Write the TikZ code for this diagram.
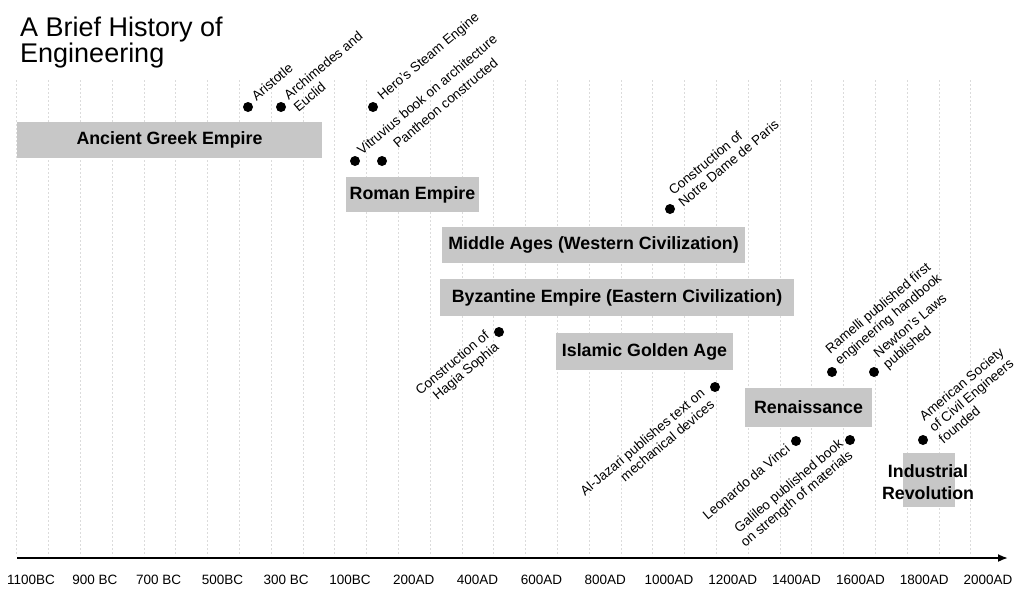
\documentclass[tikz,border=0pt]{standalone}
\usepackage{fontspec}
\setmainfont{Liberation Sans}
\usetikzlibrary{calc,arrows.meta}

\begin{document}
\begin{tikzpicture}[x=1pt, y=1pt,
  bar/.style={fill=black!22, inner sep=0pt, font=\fontsize{17.8}{21.5}\selectfont\bfseries},
  event/.style={circle, fill=black, inner sep=0pt, minimum size=10pt},
  upnote/.style={rotate=40, anchor=north west, inner sep=0pt, align=left, font=\fontsize{13.5}{15}\selectfont},
  downnote/.style={rotate=40, anchor=north east, inner sep=0pt, align=right, font=\fontsize{13.5}{15}\selectfont},
  era/.style={font=\fontsize{13.5}{16}\selectfont}]
\useasboundingbox (0,0) rectangle (1014,-590);

%==========
\foreach \i in {0,...,30}
  \draw[gray!28, dash pattern=on 2pt off 2pt, line width=0.5pt] ({16.7+31.8*\i},-80) -- ({16.7+31.8*\i},-556);

\node[anchor=north west, inner sep=0pt, align=left, font=\fontsize{27}{26.5}\selectfont] (title) at (20,-16.5) {A Brief History of\\Engineering};

%==========
\node[bar, minimum width=305pt, minimum height=36pt] (greek) at (169.5,-140) {Ancient Greek Empire};
\node[bar, minimum width=133pt, minimum height=35pt] (roman) at (412.5,-194.5) {Roman Empire};
\node[bar, minimum width=303pt, minimum height=36pt] (middle) at (593.5,-245) {Middle Ages (Western Civilization)};
\node[bar, minimum width=354pt, minimum height=37pt] (byzantine) at (617,-297.5) {Byzantine Empire (Eastern Civilization)};
\node[bar, minimum width=177pt, minimum height=37pt] (islamic) at (644.5,-351.5) {Islamic Golden Age};
\node[bar, minimum width=127pt, minimum height=39pt] (renaissance) at (808.5,-407.5) {Renaissance};
\node[bar, minimum width=52pt, minimum height=54pt] (industrialbox) at (929,-480) {};
\node[bar, fill=none, align=center] (industrial) at (928,-482) {Industrial\\Revolution};

%==========
\node[event] (aristotle) at (248,-107) {};
\node[event] (archimedes) at (281,-107) {};
\node[event] (hero) at (373,-107) {};
\node[event] (vitruvius) at (355,-161) {};
\node[event] (pantheon) at (382,-161) {};
\node[event] (notredame) at (670,-209) {};
\node[event] (hagia) at (499,-332) {};
\node[event] (aljazari) at (715,-387) {};
\node[event] (ramelli) at (832,-372) {};
\node[event] (newton) at (874,-372) {};
\node[event] (leonardo) at (796,-441) {};
\node[event] (galileo) at (850,-440) {};
\node[event] (asce) at (923,-440) {};

\node[upnote] (aristotle-t) at ($(aristotle)+(40:10)+(130:8.85)$) {Aristotle};
\node[upnote] (archimedes-t) at ($(archimedes)+(40:10)+(130:9.85)$) {Archimedes and\\Euclid};
\node[upnote] (hero-t) at ($(hero)+(40:11)+(130:8.85)$) {Hero's Steam Engine};
\node[upnote] (vitruvius-t) at ($(vitruvius)+(40:9)+(130:9.85)$) {Vitruvius book on architecture};
\node[upnote] (pantheon-t) at ($(pantheon)+(40:20)+(130:8.85)$) {Pantheon constructed};
\node[upnote] (notredame-t) at ($(notredame)+(40:11)+(130:17.6)$) {Construction of\\Notre Dame de Paris};
\node[upnote] (ramelli-t) at ($(ramelli)+(40:10)+(130:24.85)$) {Ramelli published first\\engineering handbook};
\node[upnote] (newton-t) at ($(newton)+(40:12)+(130:17.35)$) {Newton's Laws\\published};
\node[upnote] (asce-t) at ($(asce)+(40:13)+(130:23.5)$) {American Society\\of Civil Engineers\\founded};

\node[downnote] (hagia-t) at ($(hagia)+(220:10)+(130:11.85)$) {Construction of\\Hagia Sophia};
\node[downnote] (aljazari-t) at ($(aljazari)+(220:12)+(130:9.85)$) {Al-Jazari publishes text on\\mechanical devices};
\node[downnote] (leonardo-t) at ($(leonardo)+(220:10)+(130:5.85)$) {Leonardo da Vinci};
\node[downnote] (galileo-t) at ($(galileo)+(220:8)+(130:9.85)$) {Galileo published book\\on strength of materials};

%==========
\coordinate (axisL) at (17,-558);
\coordinate (axisR) at (1008,-558);
\draw[line width=1.8pt, -{Latex[length=10pt, width=8pt]}] (axisL) -- (axisR);

\foreach \yr [count=\k from 0] in {1100BC, 900 BC, 700 BC, 500BC, 300 BC, 100BC, 200AD, 400AD, 600AD, 800AD, 1000AD, 1200AD, 1400AD, 1600AD, 1800AD, 2000AD}
  \node[era] (year\k) at ({31+63.8*\k},-580) {\yr};

\end{tikzpicture}
\end{document}
